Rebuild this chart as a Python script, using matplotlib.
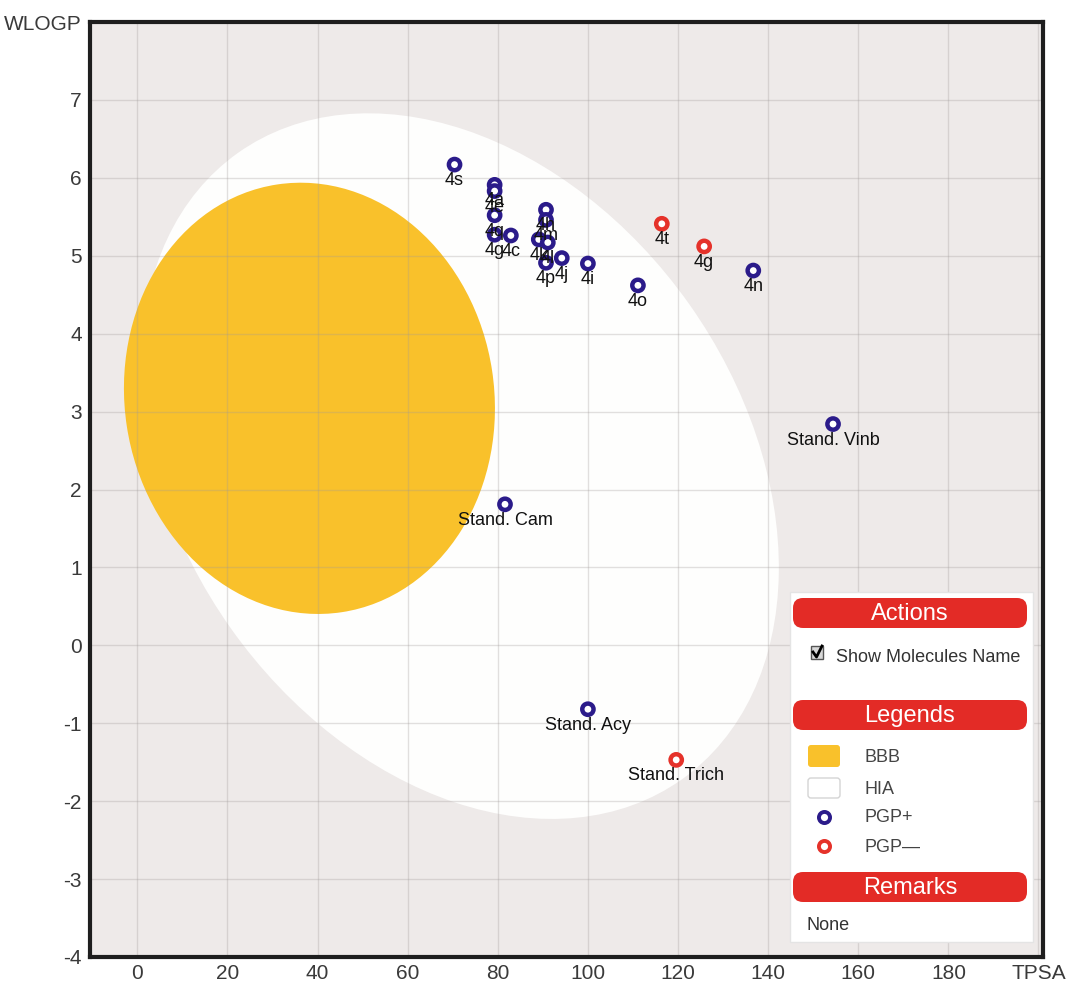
import matplotlib
matplotlib.use("Agg")
import matplotlib.pyplot as plt
from matplotlib.patches import Ellipse, FancyBboxPatch, Rectangle
from matplotlib.transforms import Affine2D

plt.rcParams['font.family'] = ['Liberation Sans', 'DejaVu Sans']

# molecules on the BOILED-Egg
names = ["4s", "4a", "4e", "4q", "4g", "4c", "4h", "4m", "4k", "4l", "4p", "4j", "4i",
         "4o", "4n", "4t", "4g",
         "Stand. Vinb", "Stand. Cam", "Stand. Acy", "Stand. Trich"]
tpsa = [70.4, 79.3, 79.3, 79.3, 79.3, 82.9, 90.7, 90.7, 89.1, 91.1, 90.7, 94.2, 100.0,
        111.1, 136.7, 116.4, 125.8,
        154.4, 81.6, 100.0, 119.6]
wlogp = [6.17, 5.91, 5.83, 5.52, 5.27, 5.26, 5.59, 5.46, 5.21, 5.17, 4.91, 4.97, 4.90,
         4.62, 4.81, 5.41, 5.12,
         2.84, 1.81, -0.82, -1.47]
pgp_substrate = [True] * 15 + [False, False] + [True, True, True, False]

x_ticks = list(range(0, 201, 20))
x_ticklabels = [str(v) for v in x_ticks[:-1]] + ["TPSA"]
y_ticks = list(range(-4, 9))
y_ticklabels = [str(v) for v in y_ticks[:-1]] + ["WLOGP"]

BLUE = "#2b1b8a"
RED = "#e5322a"
YOLK = "#f9c12b"

W, H = 1068, 985
fig = plt.figure(figsize=(W / 100, H / 100), dpi=100)
ax = fig.add_axes([90 / W, 1 - 957 / H, 953 / W, 935 / H])
ax.set_facecolor("#eeeae9")
ax.set_xlim(-10.5, 201)
ax.set_ylim(-4, 8)

# ellipses are defined in a frame where one WLOGP unit is as long on screen as K TPSA units
K = (935 / 12) / (953 / 211.5)
egg = Affine2D().scale(1, 1 / K) + ax.transData
ax.add_patch(Ellipse((71.6, 2.30 * K), 2 * 85.2, 2 * 62.3, angle=-54.7,
                     transform=egg, facecolor="#fefefd", edgecolor="none", zorder=0.5))
ax.add_patch(Ellipse((38.2, 3.17 * K), 82.0, 96.0, angle=8.6,
                     transform=egg, facecolor=YOLK, edgecolor="none", zorder=0.6))

ax.grid(True, color="#a09a98", alpha=0.3, linewidth=1)
ax.set_xticks(x_ticks)
ax.set_xticklabels(x_ticklabels)
ax.set_yticks(y_ticks)
ax.set_yticklabels(y_ticklabels)
ax.tick_params(length=0, labelsize=15, labelcolor="#3a3a3a")
ax.tick_params(axis="x", pad=5)
ax.tick_params(axis="y", pad=6)
for sp in ax.spines.values():
    sp.set_linewidth(3)
    sp.set_color("#1e1e1e")

colors = [BLUE if p else RED for p in pgp_substrate]
ax.scatter(tpsa, wlogp, s=66, facecolors="white", edgecolors=colors, linewidths=3.2, zorder=3)
for name, x, y in zip(names, tpsa, wlogp):
    ax.annotate(name, (x, y), xytext=(0, -16), textcoords="offset pixels",
                ha="center", va="center", fontsize=13, color="#111111", zorder=4)

# side panel, drawn in pixel coordinates
ov = fig.add_axes([0, 0, 1, 1])
ov.set_xlim(0, W)
ov.set_ylim(H, 0)
ov.axis("off")

ov.add_patch(Rectangle((790, 592), 243, 350, facecolor="white", edgecolor="#e4e4e4", lw=1))
for title, top in [("Actions", 598), ("Legends", 700), ("Remarks", 872)]:
    ov.add_patch(FancyBboxPatch((793, top), 234, 30, boxstyle="round,pad=0,rounding_size=10",
                                facecolor="#e32b26", edgecolor="none"))
    ov.text(910, top + 16, title, color="white", fontsize=17, ha="center", va="center")

ov.add_patch(Rectangle((811, 646), 12, 13, facecolor="#d8d8d8", edgecolor="#555555", lw=1))
ov.plot([813, 816.5, 822], [652, 657, 646], color="black", lw=2)
ov.text(836, 658, "Show Molecules Name", fontsize=13, color="#333333", va="center")

ov.add_patch(FancyBboxPatch((808, 745), 32, 22, boxstyle="round,pad=0,rounding_size=3",
                            facecolor=YOLK, edgecolor="none"))
ov.add_patch(FancyBboxPatch((808, 778), 32, 20, boxstyle="round,pad=0,rounding_size=3",
                            facecolor="white", edgecolor="#d4d4d4", lw=1))
ov.plot([824], [817], marker="o", ms=8, mfc="white", mec=BLUE, mew=2.8)
ov.plot([824], [846], marker="o", ms=8, mfc="white", mec=RED, mew=2.8)
for label, y in [("BBB", 757), ("HIA", 789), ("PGP+", 818), ("PGP\u2014", 847)]:
    ov.text(865, y, label, fontsize=13, color="#444444", va="center")
ov.text(806, 925, "None", fontsize=13, color="#333333", va="center")

fig.savefig("out.png", dpi=100)
